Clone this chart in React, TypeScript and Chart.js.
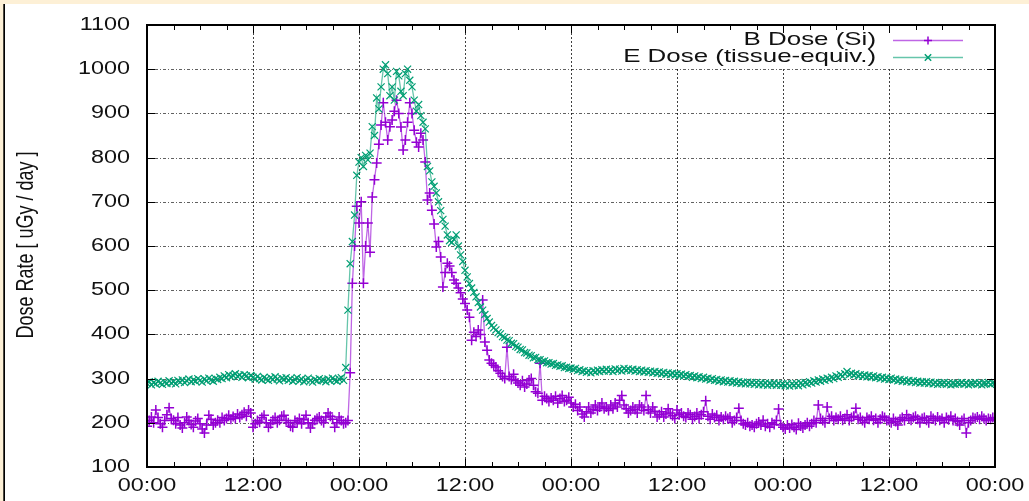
import React, { useEffect, useRef } from "react";
import { Chart, registerables } from "chart.js";
Chart.register(...registerables);

// ---------- data ----------
const SAMPLE_STEP_HOURS = 0.25; // one sample every 15 minutes, 4 days (rows = 4 hours)
const xTickHours = [0, 12, 24, 36, 48, 60, 72, 84, 96];
const xTickLabels = ["00:00", "12:00", "00:00", "12:00", "00:00", "12:00", "00:00", "12:00", "00:00"];
const yTickValues = [100, 200, 300, 400, 500, 600, 700, 800, 900, 1000, 1100];
const seriesNames = ["B Dose (Si)", "E Dose (tissue-equiv.)"];
const yTitle = "Dose Rate [ uGy / day ]";

const bDose = [
  192, 205, 213, 200, 229, 212, 198, 190, 205, 218, 234, 210, 206, 198, 212, 195,
  188, 200, 213, 205, 196, 190, 204, 210, 198, 186, 177, 195, 217, 208, 195, 200,
  206, 200, 212, 205, 210, 217, 208, 214, 210, 220, 212, 218, 224, 215, 229, 222,
  190, 198, 205, 201, 212, 217, 200, 190, 198, 206, 212, 200, 206, 215, 217, 205,
  200, 192, 190, 205, 201, 210, 198, 207, 217, 200, 188, 198, 206, 210, 213, 205,
  200, 213, 222, 215, 208, 190, 200, 213, 205, 198, 200, 205, 313, 516, 600, 690,
  652, 700, 516, 600, 652, 586, 711, 750, 788, 830, 874, 924, 880, 840, 870, 885,
  905, 930, 900, 869, 817, 840, 880, 924, 900, 862, 835, 824, 855, 840, 790, 704,
  720, 681, 650, 598, 610, 575, 507, 540, 561, 555, 540, 523, 516, 505, 494, 480,
  470, 455, 439, 387, 405, 395, 410, 400, 478, 383, 364, 342, 335, 330, 326, 318,
  312, 305, 300, 371, 305, 298, 310, 295, 290, 285, 295, 281, 288, 297, 300, 285,
  270, 267, 335, 251, 260, 255, 248, 256, 251, 260, 245, 255, 262, 248, 251, 258,
  245, 236, 242, 228, 236, 220, 213, 225, 236, 222, 230, 240, 228, 236, 245, 232,
  236, 228, 240, 232, 245, 236, 251, 262, 240, 232, 222, 228, 236, 230, 222, 240,
  236, 228, 262, 230, 222, 236, 226, 213, 218, 225, 213, 220, 232, 222, 216, 210,
  229, 218, 222, 215, 212, 222, 218, 208, 214, 222, 210, 218, 225, 250, 215, 208,
  220, 212, 217, 205, 213, 208, 215, 210, 213, 200, 205, 212, 233, 205, 198, 195,
  200, 192, 195, 190, 198, 202, 195, 206, 192, 198, 190, 200, 196, 205, 231, 195,
  190, 186, 195, 188, 196, 190, 185, 199, 193, 188, 195, 200, 192, 198, 205, 200,
  240, 210, 205, 200, 236, 210, 215, 205, 212, 208, 215, 206, 210, 218, 205, 212,
  215, 233, 208, 212, 205, 200, 212, 208, 215, 206, 210, 200, 208, 215, 212, 205,
  206, 200, 210, 203, 195, 208, 212, 205, 218, 210, 206, 212, 215, 208, 200, 210,
  212, 206, 200, 215, 210, 205, 213, 206, 210, 200, 212, 207, 215, 205, 210, 203,
  195, 205, 210, 177, 200, 205, 212, 210, 213, 208, 215, 210, 205, 210, 208, 212,
  205,
];

const eDose = [
  289, 293, 286, 291, 288, 294, 290, 287, 292, 289, 295, 290, 293, 288, 296, 292,
  297, 291, 295, 299, 293, 297, 294, 300, 296, 292, 299, 295, 301, 297, 294, 300,
  298, 303, 300, 306, 302, 309, 304, 307, 311, 305, 308, 303, 309, 306, 302, 307,
  303, 299, 305, 300, 297, 303, 299, 296, 302, 298, 304, 299, 295, 301, 298, 302,
  296, 300, 294, 298, 302, 295, 299, 293, 297, 301, 296, 292, 298, 295, 300, 296,
  297, 293, 299, 295, 301, 297, 294, 299, 302, 296, 325, 455, 560, 610, 670, 760,
  790, 800, 780, 805, 795, 810, 870, 850, 935, 910, 960, 1000, 1010, 990, 940, 960,
  930, 995, 985, 950, 940, 990, 1000, 975, 960, 930, 905, 920, 895, 880, 865, 780,
  770, 745, 735, 720, 700, 680, 660, 645, 625, 612, 608, 615, 625, 600, 580, 565,
  545, 530, 515, 505, 495, 485, 472, 462, 455, 445, 436, 428, 420, 415, 410, 404,
  401, 395, 393, 387, 386, 380, 379, 373, 371, 366, 365, 359, 358, 353, 352, 347,
  348, 343, 343, 339, 340, 336, 336, 333, 334, 330, 331, 328, 329, 325, 326, 323,
  324, 321, 323, 318, 320, 316, 318, 314, 317, 313, 318, 315, 319, 316, 320, 317,
  321, 317, 320, 316, 322, 318, 321, 317, 323, 319, 322, 318, 321, 317, 320, 316,
  319, 315, 318, 314, 317, 313, 316, 312, 315, 311, 314, 310, 313, 309, 312, 308,
  311, 307, 310, 306, 309, 305, 307, 303, 306, 302, 304, 300, 303, 299, 301, 297,
  300, 296, 298, 294, 297, 293, 296, 292, 295, 291, 294, 290, 293, 289, 292, 288,
  292, 288, 291, 287, 291, 286, 290, 286, 290, 285, 289, 286, 290, 285, 289, 285,
  288, 284, 289, 283, 288, 285, 289, 284, 290, 286, 291, 288, 293, 290, 295, 292,
  297, 294, 299, 296, 301, 298, 303, 300, 306, 303, 309, 305, 311, 316, 309, 312,
  308, 311, 306, 309, 305, 308, 304, 307, 303, 306, 302, 304, 300, 303, 299, 302,
  298, 301, 297, 299, 295, 298, 294, 297, 293, 296, 292, 295, 291, 294, 290, 293,
  290, 293, 289, 292, 288, 291, 287, 290, 288, 291, 287, 290, 286, 289, 287, 290,
  288, 291, 287, 290, 286, 289, 288, 291, 287, 290, 286, 289, 288, 291, 287, 290,
  289,
];

// ---------- styles ----------
const W = 1029;
const H = 501;
const PURPLE = "#9400D3";
const PURPLE_LINE = "rgba(148,0,211,0.6)";
const GREEN = "#009E73";
const GREEN_LINE = "rgba(0,158,115,0.6)";
const CREAM = "#FDF0D6";
const TEXT = "#111111";
const FONT = '"Liberation Sans", Arial, sans-serif';

function drawText(ctx: CanvasRenderingContext2D, text: string, x: number, y: number, align: CanvasTextAlign, size: number, sx: number) {
  ctx.save();
  ctx.translate(x, y);
  ctx.scale(sx, 1);
  ctx.textAlign = align;
  ctx.textBaseline = "middle";
  ctx.font = `${size}px ${FONT}`;
  ctx.fillStyle = TEXT;
  ctx.fillText(text, 0, 0);
  ctx.restore();
}

const decorPlugin = {
  id: "gnuplotDecor",
  beforeDraw(chart: any) {
    const ctx: CanvasRenderingContext2D = chart.ctx;
    ctx.save();
    ctx.fillStyle = CREAM;
    ctx.fillRect(0, 0, W, H);
    ctx.fillStyle = "#ffffff";
    ctx.fillRect(5, 4, W - 5, H - 4);
    ctx.fillStyle = "#000";
    ctx.fillRect(3.3, 4, 1.7, H - 4);
    ctx.restore();
  },
  beforeDatasetsDraw(chart: any) {
    const ctx: CanvasRenderingContext2D = chart.ctx;
    const { left, right, top, bottom } = chart.chartArea;
    const xs = chart.scales.x;
    const ys = chart.scales.y;
    ctx.save();
    ctx.lineWidth = 1;
    ctx.strokeStyle = "rgba(0,0,0,0.62)";
    ctx.setLineDash([3, 2, 1, 2]);
    yTickValues.forEach((v) => {
      if (v === 100 || v === 1100) return;
      const y = Math.round(ys.getPixelForValue(v)) + 0.5;
      ctx.beginPath();
      ctx.moveTo(left, y);
      ctx.lineTo(right, y);
      ctx.stroke();
    });
    ctx.strokeStyle = "rgba(0,0,0,0.75)";
    ctx.setLineDash([2, 2]);
    xTickHours.forEach((h) => {
      if (h === 0 || h === 96) return;
      const x = Math.round(xs.getPixelForValue(h)) + 0.5;
      ctx.beginPath();
      ctx.moveTo(x, bottom);
      ctx.lineTo(x, top);
      ctx.stroke();
    });
    ctx.restore();
  },
  afterDatasetsDraw(chart: any) {
    const ctx: CanvasRenderingContext2D = chart.ctx;
    const { left, right, top, bottom } = chart.chartArea;
    const xs = chart.scales.x;
    const ys = chart.scales.y;
    ctx.save();
    // key box (opaque)
    ctx.fillStyle = "#ffffff";
    ctx.fillRect(614, top + 1, right - 614 - 1, 42);

    // key entries
    const keyY = [40, 57];
    const colors = [PURPLE, GREEN];
    const lineColors = [PURPLE_LINE, GREEN_LINE];
    const styles = ["cross", "crossRot"];
    const radii = [4, 4.5];
    seriesNames.forEach((name, i) => {
      drawText(ctx, name, 876, keyY[i], "right", 18.5, 1.4);
      ctx.save();
      ctx.strokeStyle = lineColors[i];
      ctx.lineWidth = 1.3;
      ctx.setLineDash([]);
      ctx.beginPath();
      ctx.moveTo(893, keyY[i] + 0.5);
      ctx.lineTo(963, keyY[i] + 0.5);
      ctx.stroke();
      ctx.restore();
      ctx.save();
      ctx.strokeStyle = colors[i];
      ctx.lineWidth = 1.5;
      const r = radii[i];
      ctx.beginPath();
      if (styles[i] === "cross") {
        ctx.moveTo(928 - r, keyY[i] + 0.5);
        ctx.lineTo(928 + r, keyY[i] + 0.5);
        ctx.moveTo(928, keyY[i] - r + 0.5);
        ctx.lineTo(928, keyY[i] + r + 0.5);
      } else {
        const d = r * Math.SQRT1_2;
        ctx.moveTo(928 - d, keyY[i] - d + 0.5);
        ctx.lineTo(928 + d, keyY[i] + d + 0.5);
        ctx.moveTo(928 - d, keyY[i] + d + 0.5);
        ctx.lineTo(928 + d, keyY[i] - d + 0.5);
      }
      ctx.stroke();
      ctx.restore();
    });

    // ticks
    ctx.strokeStyle = "#000";
    ctx.lineWidth = 1;
    ctx.setLineDash([]);
    for (let h = 0; h <= 96; h += 3) {
      const x = Math.round(xs.getPixelForValue(h)) + 0.5;
      const len = h % 12 === 0 ? 8 : 5;
      ctx.beginPath();
      ctx.moveTo(x, bottom);
      ctx.lineTo(x, bottom - len);
      ctx.moveTo(x, top);
      ctx.lineTo(x, top + len);
      ctx.stroke();
    }
    yTickValues.forEach((v) => {
      const y = Math.round(ys.getPixelForValue(v)) + 0.5;
      ctx.beginPath();
      ctx.moveTo(left, y);
      ctx.lineTo(left + 8, y);
      ctx.moveTo(right, y);
      ctx.lineTo(right - 8, y);
      ctx.stroke();
    });

    // border box
    ctx.lineWidth = 2;
    ctx.strokeRect(left, top, right - left, bottom - top);

    // tick labels
    yTickValues.forEach((v) => {
      drawText(ctx, String(v), 130, ys.getPixelForValue(v), "right", 18, 1.3);
    });
    xTickHours.forEach((h, i) => {
      drawText(ctx, xTickLabels[i], xs.getPixelForValue(h), 486, "center", 18, 1.3);
    });

    // y title (rotated)
    ctx.save();
    ctx.translate(27, 245);
    ctx.scale(1.3, 1);
    ctx.rotate(-Math.PI / 2);
    ctx.textAlign = "center";
    ctx.textBaseline = "middle";
    ctx.font = `18px ${FONT}`;
    ctx.fillStyle = TEXT;
    ctx.fillText(yTitle, 0, 0);
    ctx.restore();

    ctx.restore();
  },
};

export default function App() {
  const canvasRef = useRef<HTMLCanvasElement | null>(null);

  useEffect(() => {
    const canvas = canvasRef.current;
    if (!canvas) return;
    const toPoints = (arr: number[]) => arr.map((v, i) => ({ x: i * SAMPLE_STEP_HOURS, y: v }));
    const chart = new Chart(canvas, {
      type: "line",
      data: {
        datasets: [
          {
            label: seriesNames[0],
            data: toPoints(bDose),
            order: 2,
            borderColor: PURPLE_LINE,
            borderWidth: 1.3,
            pointStyle: "cross",
            pointRadius: 5,
            pointBorderWidth: 1.5,
            pointBorderColor: PURPLE,
            pointBackgroundColor: PURPLE,
            tension: 0,
          },
          {
            label: seriesNames[1],
            data: toPoints(eDose),
            order: 1,
            borderColor: GREEN_LINE,
            borderWidth: 1.3,
            pointStyle: "crossRot",
            pointRadius: 5,
            pointBorderWidth: 1.2,
            pointBorderColor: GREEN,
            pointBackgroundColor: GREEN,
            tension: 0,
          },
        ],
      },
      options: {
        responsive: false,
        animation: false,
        devicePixelRatio: 1,
        events: [],
        layout: { padding: { left: 0, right: 34, top: 25, bottom: 0 } },
        plugins: { legend: { display: false }, tooltip: { enabled: false }, title: { display: false } },
        scales: {
          x: {
            type: "linear",
            min: 0,
            max: 96,
            ticks: { display: false, stepSize: 12 },
            grid: { display: false },
            border: { display: false },
            afterFit: (s: any) => {
              s.height = 34;
            },
          },
          y: {
            type: "linear",
            min: 100,
            max: 1100,
            ticks: { display: false, stepSize: 100 },
            grid: { display: false },
            border: { display: false },
            afterFit: (s: any) => {
              s.width = 147;
            },
          },
        },
      },
      plugins: [decorPlugin],
    } as any);
    return () => chart.destroy();
  }, []);

  return (
    <div style={{ position: "fixed", left: 0, top: 0, width: W, height: H, background: "#fff" }}>
      <canvas ref={canvasRef} width={W} height={H} style={{ display: "block", width: W, height: H }} />
    </div>
  );
}
